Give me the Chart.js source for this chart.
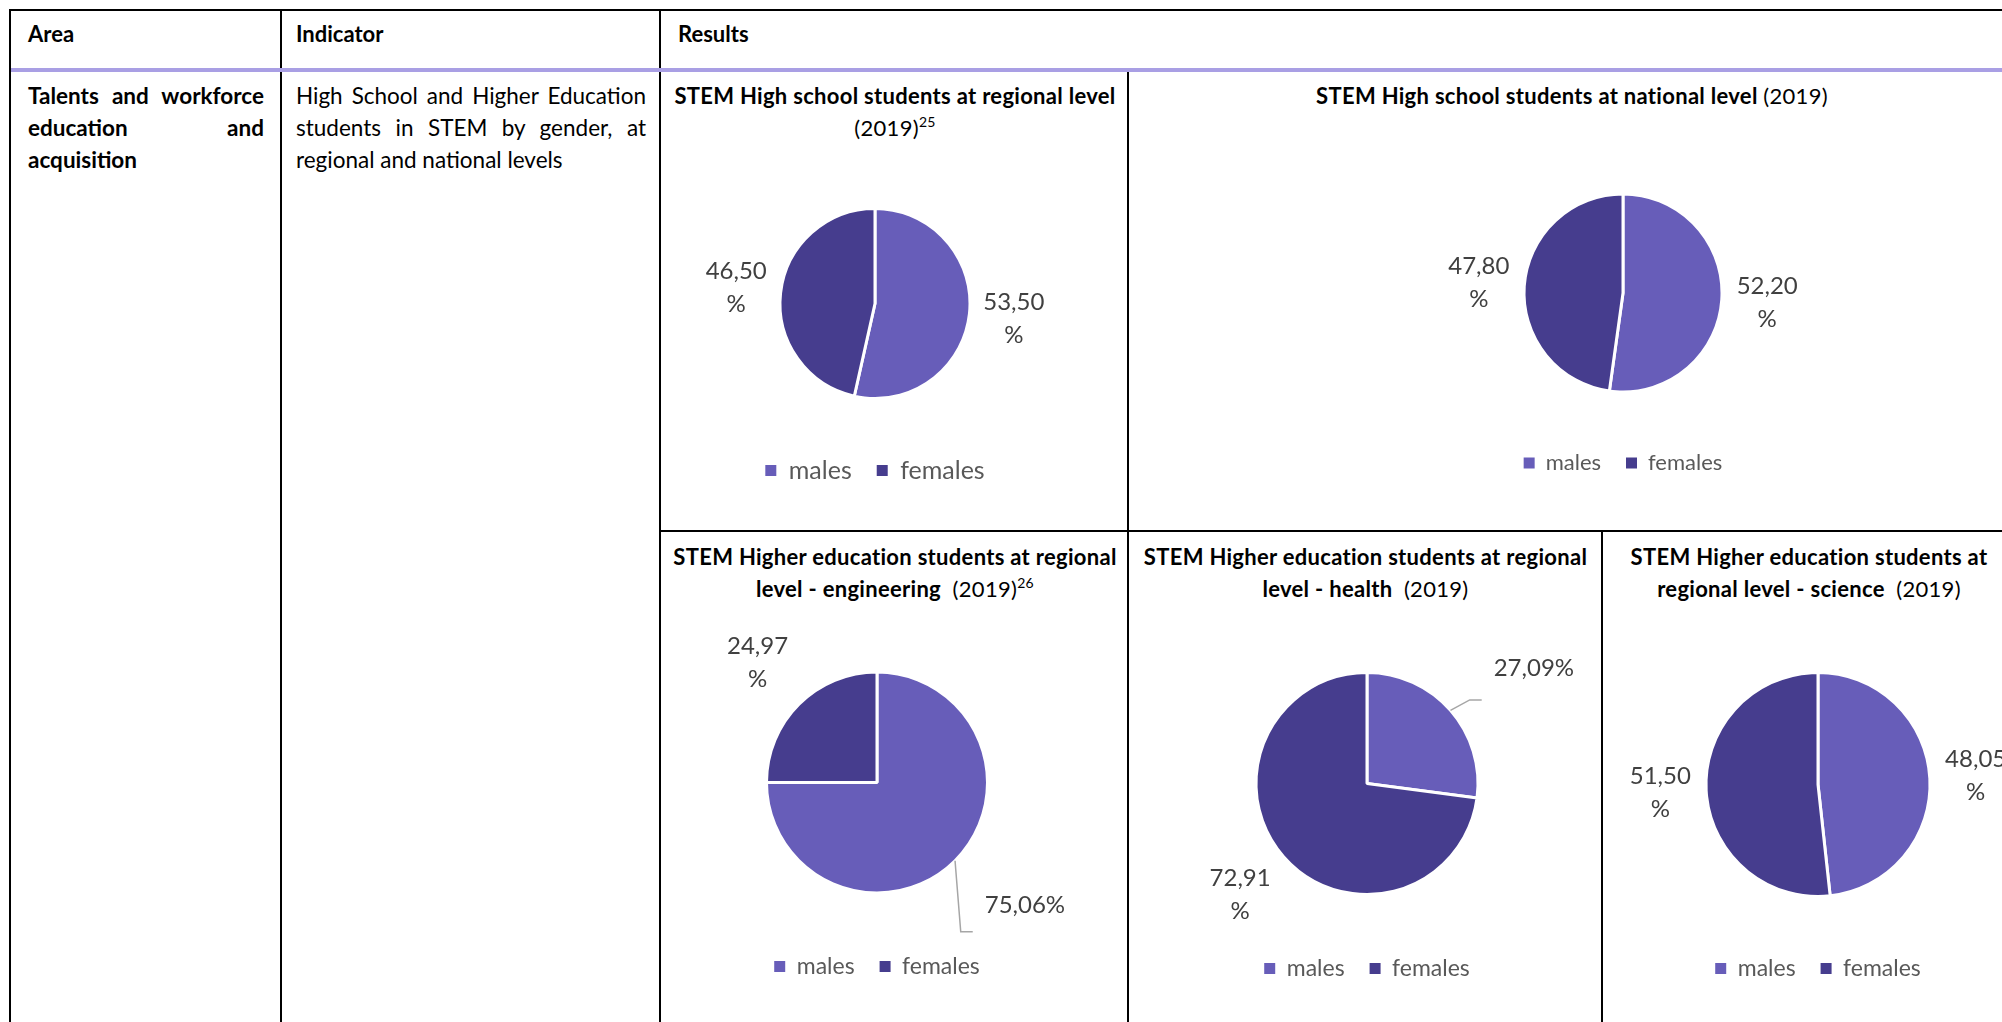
<!DOCTYPE html>
<html>
<head>
<meta charset="utf-8">
<title>STEM students by gender</title>
<script src="https://cdn.jsdelivr.net/npm/chart.js@4.4.1/dist/chart.umd.min.js"></script>
<style>
html, body { margin: 0; padding: 0; background: #fff; overflow: hidden; }
body { width: 2002px; height: 1022px; position: relative; font-family: Lato, "Open Sans", sans-serif; color: #000; }
.ln { position: absolute; background: #000; }
.txt { position: absolute; font-size: 22.5px; line-height: 32px; }
.hd { font-size: 22px; }
.b { font-weight: 700; }
.jl { text-align: justify; text-align-last: justify; }
.title { position: absolute; text-align: center; font-size: 22px; line-height: 32px; font-weight: 700; letter-spacing: 0.3px; }
.title .n { font-weight: 400; }
sup { font-size: 14px; line-height: 0; vertical-align: 9px; font-weight: 400; }
canvas { position: absolute; }
</style>
</head>
<body>

<!-- table grid -->
<div class="ln" style="left:9px;top:9px;width:1993px;height:2px"></div>
<div class="ln" style="left:9px;top:9px;width:2px;height:1013px"></div>
<div class="ln" style="left:280px;top:9px;width:2px;height:1013px"></div>
<div class="ln" style="left:659px;top:9px;width:2px;height:1013px"></div>
<div class="ln" style="left:1127px;top:70px;width:2px;height:952px"></div>
<div class="ln" style="left:660px;top:530px;width:1342px;height:2px"></div>
<div class="ln" style="left:1601px;top:531px;width:2px;height:491px"></div>
<div class="ln" style="left:11px;top:68px;width:1991px;height:4px;background:#a99fe4"></div>

<!-- header row -->
<div class="txt hd b" style="left:28px;top:18px">Area</div>
<div class="txt hd b" style="left:296px;top:18px">Indicator</div>
<div class="txt hd b" style="left:678px;top:18px">Results</div>

<div class="txt b" style="left:28px;top:80px;width:236px">
  <div class="jl">Talents and workforce</div>
  <div class="jl">education and</div>
  <div>acquisition</div>
</div>
<div class="txt" style="left:296px;top:80px;width:350px">
  <div class="jl">High School and Higher Education</div>
  <div class="jl">students in STEM by gender, at</div>
  <div>regional and national levels</div>
</div>

<!-- chart titles -->
<div class="title" style="left:662px;top:80px;width:466px">STEM High school students at regional level<br><span class="n">(2019)<sup>25</sup></span></div>
<div class="title" style="left:1129px;top:80px;width:886px">STEM High school students at national level <span class="n">(2019)</span></div>
<div class="title" style="left:662px;top:541px;width:466px">STEM Higher education students at regional<br>level - engineering <span class="n">&nbsp;(2019)<sup>26</sup></span></div>
<div class="title" style="left:1129px;top:541px;width:473px">STEM Higher education students at regional<br>level - health <span class="n">&nbsp;(2019)</span></div>
<div class="title" style="left:1603px;top:541px;width:412px">STEM Higher education students at<br>regional level - science <span class="n">&nbsp;(2019)</span></div>

<canvas id="hsRegional"></canvas>
<canvas id="hsNational"></canvas>
<canvas id="heEngineering"></canvas>
<canvas id="heHealth"></canvas>
<canvas id="heScience"></canvas>

<script>
const genders = ['males', 'females'];
const hsRegional = [53.50, 46.50];
const hsNational = [52.20, 47.80];
const heEngineering = [75.06, 24.97];
const heHealth = [27.09, 72.91];
const heScience = [48.05, 51.50];

const maleColor = '#675db9';
const femaleColor = '#463d8e';

Chart.defaults.font.family = 'Lato, "Open Sans", sans-serif';

// percentage labels outside the slices, with optional elbow leader line
const sliceLabels = {
    id: 'sliceLabels',
    afterDatasetsDraw(chart, args, opts) {
        const ctx = chart.ctx;
        const meta = chart.getDatasetMeta(0);
        const values = chart.data.datasets[0].data;
        ctx.save();
        ctx.font = opts.size + 'px Lato, "Open Sans", sans-serif';
        ctx.fillStyle = '#404040';
        ctx.textAlign = 'center';
        ctx.textBaseline = 'middle';
        meta.data.forEach((arc, i) => {
            const spec = opts.items[i];
            const p = arc.getProps(['x', 'y', 'startAngle', 'endAngle', 'outerRadius'], true);
            const mid = (p.startAngle + p.endAngle) / 2;
            const lx = p.x + Math.cos(mid) * p.outerRadius * spec.dist + (spec.dx || 0);
            const ly = p.y + Math.sin(mid) * p.outerRadius * spec.dist;
            const num = values[i].toFixed(2).replace('.', ',');
            const lines = spec.wrap ? [num, '%'] : [num + '%'];
            lines.forEach((t, k) => {
                ctx.fillText(t, lx, ly + (k - (lines.length - 1) / 2) * opts.lineHeight);
            });
            if (spec.leader) {
                const left = lx - ctx.measureText(lines[0]).width / 2;
                ctx.beginPath();
                ctx.moveTo(p.x + Math.cos(mid) * p.outerRadius, p.y + Math.sin(mid) * p.outerRadius);
                ctx.lineTo(left - 24, ly + spec.leader);
                ctx.lineTo(left - 12, ly + spec.leader);
                ctx.strokeStyle = '#a6a6a6';
                ctx.lineWidth = 1.5;
                ctx.stroke();
            }
        });
        ctx.restore();
    }
};

function drawPie(id, values, frame, items) {
    const pad = 25;
    const padTop = 40;
    const W = 460;
    const half = frame.legendY - pad - frame.legendSize / 2 - frame.cy;
    const canvas = document.getElementById(id);
    canvas.width = W;
    canvas.height = padTop + 2 * half + frame.legendSize + pad + 10;
    canvas.style.left = (frame.cx - W / 2) + 'px';
    canvas.style.top = (frame.cy - half - padTop) + 'px';

    return new Chart(canvas, {
        type: 'pie',
        data: {
            labels: genders,
            datasets: [{
                data: values,
                backgroundColor: [maleColor, femaleColor],
                borderColor: '#ffffff',
                borderWidth: 3,
                radius: frame.r
            }]
        },
        options: {
            responsive: false,
            animation: false,
            layout: { padding: { top: padTop } },
            plugins: {
                legend: {
                    position: 'bottom',
                    labels: {
                        boxWidth: 11,
                        boxHeight: 11,
                        padding: pad,
                        color: '#595959',
                        font: { size: frame.legendSize },
                        generateLabels(chart) {
                            const base = Chart.overrides.pie.plugins.legend.labels.generateLabels(chart);
                            return base.map(item => Object.assign(item, { lineWidth: 0 }));
                        }
                    }
                },
                tooltip: { enabled: false },
                sliceLabels: { size: 24, lineHeight: 33, items: items }
            }
        },
        plugins: [sliceLabels]
    });
}

drawPie('hsRegional', hsRegional,
    { cx: 875, cy: 303, r: 95, legendY: 470, legendSize: 25 },
    [{ dist: 1.47, wrap: true }, { dist: 1.47, wrap: true }]);

drawPie('hsNational', hsNational,
    { cx: 1623, cy: 293, r: 99, legendY: 463, legendSize: 22 },
    [{ dist: 1.46, wrap: true }, { dist: 1.46, wrap: true }]);

drawPie('heEngineering', heEngineering,
    { cx: 877, cy: 782, r: 110.5, legendY: 966, legendSize: 23 },
    [{ dist: 1.575, dx: 25, leader: 26 }, { dist: 1.53, wrap: true }]);

drawPie('heHealth', heHealth,
    { cx: 1367, cy: 783, r: 111, legendY: 968, legendSize: 23 },
    [{ dist: 1.58, dx: 35, leader: 32 }, { dist: 1.52, wrap: true }]);

drawPie('heScience', heScience,
    { cx: 1818, cy: 784, r: 112, legendY: 968, legendSize: 23 },
    [{ dist: 1.41, wrap: true }, { dist: 1.41, wrap: true }]);
</script>
</body>
</html>
